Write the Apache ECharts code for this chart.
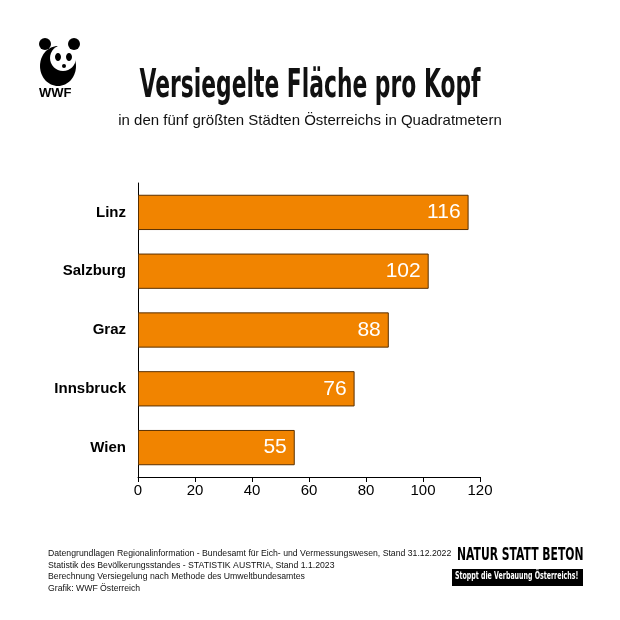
<!DOCTYPE html>
<html>
  <head>
    <meta charset="utf-8" />
    <script src="https://cdn.jsdelivr.net/npm/echarts@6.0.0/dist/echarts.min.js"></script>
    <style>body{margin:0;background:#fff}</style>
  </head>
  <body>
    <div id="main" style="width: 620px;height:620px;"></div>
    <script type="text/javascript">
      var myChart = echarts.init(document.getElementById('main'));

      var cities = ['Linz', 'Salzburg', 'Graz', 'Innsbruck', 'Wien'];
      var values = [116, 102, 88, 76, 55];

      var cond = '"DejaVu Sans", sans-serif';
      var sans = '"Liberation Sans", Arial, sans-serif';

      // condensed text via horizontal scaling
      function narrowText(x, y, text, size, sx, fill, align) {
        return {
          type: 'text', x: x, y: y, scaleX: sx, originX: 0, originY: 0,
          style: { text: text, fontSize: size, fontWeight: 'bold', fontFamily: cond, fill: fill, textAlign: align || 'left' }
        };
      }

      option = {
        backgroundColor: '#fff',
        grid: { left: 138, right: 140, top: 183, bottom: 143 },
        xAxis: {
          type: 'value', min: 0, max: 120, interval: 20,
          axisLine: { show: true, lineStyle: { color: '#000' } },
          axisTick: { show: true, length: 5, lineStyle: { color: '#000' } },
          splitLine: { show: false },
          axisLabel: { color: '#000', fontSize: 15, fontFamily: sans, margin: 6 }
        },
        yAxis: {
          type: 'category', data: cities, inverse: true,
          axisLine: { show: true, lineStyle: { color: '#000' } },
          axisTick: { show: false },
          axisLabel: { color: '#000', fontSize: 15, fontWeight: 'bold', fontFamily: sans, margin: 12 }
        },
        series: [{
          type: 'bar', data: values, barCategoryGap: '40%',
          itemStyle: { color: '#f18400', borderColor: '#5a3000', borderWidth: 1 },
          label: { show: true, position: 'insideRight', color: '#fff', fontSize: 21, fontFamily: sans, distance: 8 }
        }],
        graphic: [
          narrowText(310, 67, 'Versiegelte Fläche pro Kopf', 39, 0.56, '#111', 'center'),
          { type: 'text', left: 'center', top: 113, style: { text: 'in den fünf größten Städten Österreichs in Quadratmetern', fontSize: 15, fontFamily: sans, fill: '#111' } },
          { type: 'text', x: 39, y: 87, style: { text: 'WWF', fontSize: 13, fontWeight: 'bold', fontFamily: sans, fill: '#000' } },
          { type: 'ellipse', shape: { cx: 58, cy: 66, rx: 18, ry: 20 }, style: { fill: '#000' } },
          { type: 'ellipse', shape: { cx: 63, cy: 58, rx: 13, ry: 13 }, style: { fill: '#fff' } },
          { type: 'circle', shape: { cx: 45, cy: 44, r: 6 }, style: { fill: '#000' } },
          { type: 'circle', shape: { cx: 74, cy: 44, r: 6 }, style: { fill: '#000' } },
          { type: 'ellipse', shape: { cx: 58, cy: 57, rx: 3, ry: 4 }, style: { fill: '#000' } },
          { type: 'ellipse', shape: { cx: 69, cy: 57, rx: 3, ry: 4 }, style: { fill: '#000' } },
          { type: 'circle', shape: { cx: 64, cy: 66, r: 2 }, style: { fill: '#000' } },
          { type: 'text', left: 48, top: 548, style: { text: 'Datengrundlagen Regionalinformation - Bundesamt für Eich- und Vermessungswesen, Stand 31.12.2022\nStatistik des Bevölkerungsstandes - STATISTIK AUSTRIA, Stand 1.1.2023\nBerechnung Versiegelung nach Methode des Umweltbundesamtes\nGrafik: WWF Österreich', fontSize: 8.7, lineHeight: 11.5, fontFamily: sans, fill: '#111' } },
          narrowText(457, 546, 'NATUR STATT BETON', 18, 0.6, '#000'),
          { type: 'rect', shape: { x: 452, y: 569, width: 131, height: 17 }, style: { fill: '#000' } },
          narrowText(455, 571, 'Stoppt die Verbauung Österreichs!', 11, 0.57, '#fff')
        ]
      };

      myChart.setOption(option);
    </script>
  </body>
</html>
